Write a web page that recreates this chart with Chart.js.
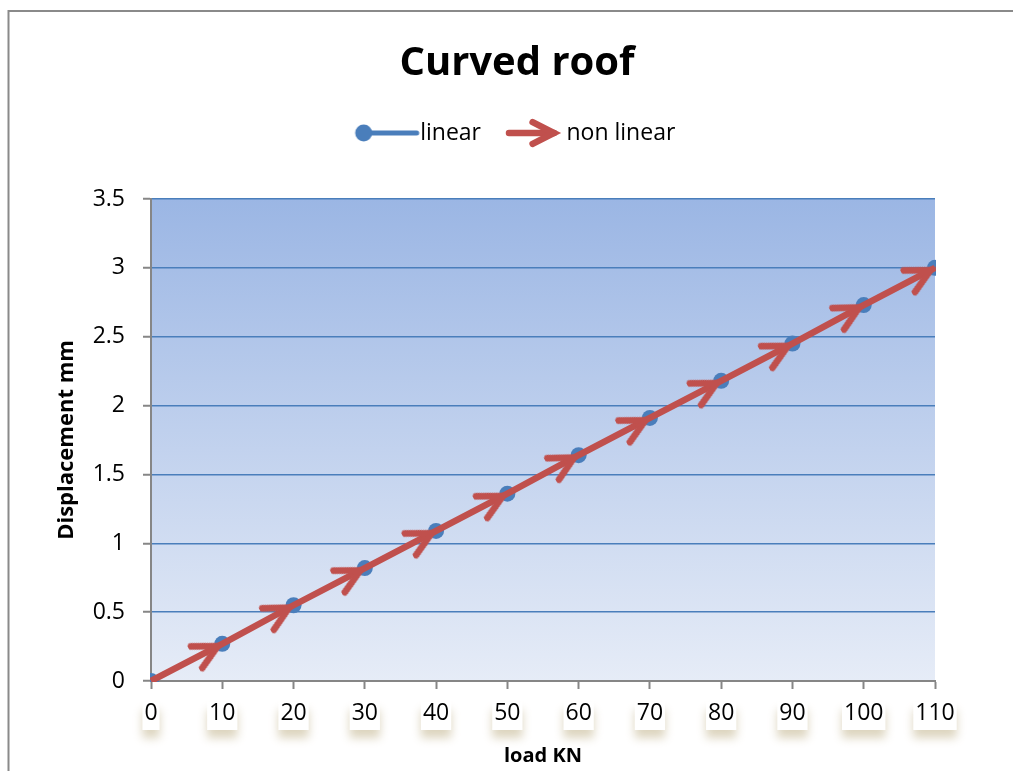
<!DOCTYPE html>
<html><head><meta charset="utf-8">
<script src="https://cdn.jsdelivr.net/npm/chart.js@4.4.1/dist/chart.umd.min.js"></script>
<style>html,body{margin:0;padding:0;background:#fff;overflow:hidden}</style>
</head><body><canvas id="c" width="1013" height="771"></canvas>
<script>
const chartTitle = 'Curved roof';
const seriesNames = ['linear', 'non linear'];
const xTitle = 'load KN';
const yTitle = 'Displacement mm';
const loadKN = [0, 10, 20, 30, 40, 50, 60, 70, 80, 90, 100, 110];
const linearDisp = [0, 0.27, 0.55, 0.82, 1.09, 1.36, 1.64, 1.91, 2.18, 2.45, 2.73, 3.0];
const nonLinearDisp = [0, 0.27, 0.55, 0.82, 1.09, 1.36, 1.64, 1.91, 2.18, 2.45, 2.73, 3.0];
const xTickLabels = ['0', '10', '20', '30', '40', '50', '60', '70', '80', '90', '100', '110'];
const yTickLabels = ['0', '0.5', '1', '1.5', '2', '2.5', '3', '3.5'];

const BLUE = '#4A7EBB';
const RED = '#C0504D';
const AXIS = '#868686';
Chart.defaults.font.family = "'Open Sans', sans-serif";
Chart.defaults.color = '#000';

function drawChevron(g, tipX, tipY, len, ang, w) {
  const dx = len * Math.cos(ang), dy = len * Math.sin(ang);
  g.strokeStyle = RED; g.lineWidth = w; g.lineCap = 'round'; g.lineJoin = 'miter';
  g.beginPath(); g.moveTo(tipX - dx, tipY - dy); g.lineTo(tipX, tipY); g.lineTo(tipX - dx, tipY + dy); g.stroke();
}
function makeChevron() {
  const c = document.createElement('canvas'); c.width = 64; c.height = 64;
  drawChevron(c.getContext('2d'), 27, 32, 27, 27 * Math.PI / 180, 6.5);
  return c;
}
function makeLegendLinear() {
  const c = document.createElement('canvas'); c.width = 80; c.height = 34;
  const g = c.getContext('2d');
  g.strokeStyle = BLUE; g.lineWidth = 5; g.lineCap = 'round';
  g.beginPath(); g.moveTo(20, 17); g.lineTo(73, 17); g.stroke();
  g.fillStyle = BLUE; g.beginPath(); g.arc(20, 17, 8.5, 0, Math.PI * 2); g.fill();
  return c;
}
function makeLegendNonLinear() {
  const c = document.createElement('canvas'); c.width = 80; c.height = 34;
  const g = c.getContext('2d');
  g.strokeStyle = RED; g.lineWidth = 6.5; g.lineCap = 'round';
  g.beginPath(); g.moveTo(19, 17); g.lineTo(64, 17); g.stroke();
  drawChevron(g, 64, 17, 24, 27 * Math.PI / 180, 6.5);
  return c;
}
const chevron = makeChevron();
const legendImgs = [makeLegendLinear(), makeLegendNonLinear()];

function arrowAngle(c) {
  const ch = c.chart, xs = ch.scales.x, ys = ch.scales.y, i = c.dataIndex;
  if (!xs || !ys || i === undefined) return 0;
  const a = i > 0 ? i - 1 : 0, b = i > 0 ? i : 1;
  const dx = xs.getPixelForValue(loadKN[b]) - xs.getPixelForValue(loadKN[a]);
  const dy = ys.getPixelForValue(nonLinearDisp[b]) - ys.getPixelForValue(nonLinearDisp[a]);
  return Math.atan2(dy, dx) * 180 / Math.PI;
}

const bgPlugin = {
  id: 'bg',
  beforeDraw(chart) {
    const { ctx, chartArea: a, scales } = chart;
    ctx.save();
    ctx.strokeStyle = '#8a8a8a'; ctx.lineWidth = 2;
    ctx.strokeRect(8.5, 11, 1200, 1000);
    const g = ctx.createLinearGradient(0, a.top, 0, a.bottom);
    g.addColorStop(0, '#9BB6E4'); g.addColorStop(1, '#E6ECF7');
    ctx.fillStyle = g; ctx.fillRect(a.left, a.top, a.right - a.left, a.bottom - a.top);
    const xs = scales.x;
    ctx.font = "23px 'Open Sans', sans-serif";
    xs.ticks.forEach((t, i) => {
      const px = xs.getPixelForValue(t.value);
      const w = ctx.measureText(xTickLabels[i]).width + 4;
      ctx.shadowColor = 'rgba(185,170,125,0.5)'; ctx.shadowBlur = 10; ctx.shadowOffsetY = 8;
      ctx.fillStyle = '#fff';
      ctx.fillRect(px - w / 2, xs.top + 21, w, 28);
    });
    ctx.restore();
  }
};

new Chart(document.getElementById('c'), {
  type: 'line',
  data: {
    datasets: [
      {
        label: seriesNames[0],
        data: loadKN.map((x, i) => ({ x, y: linearDisp[i] })),
        borderColor: BLUE, borderWidth: 4, pointStyle: 'circle', pointRadius: 8,
        pointBackgroundColor: BLUE, pointBorderWidth: 0, order: 2, clip: 1
      },
      {
        label: seriesNames[1],
        data: loadKN.map((x, i) => ({ x, y: nonLinearDisp[i] })),
        borderColor: RED, borderWidth: 6.5, pointStyle: chevron,
        pointRadius: (c) => c.dataIndex === 0 ? 0 : 6,
        pointRotation: arrowAngle, order: 1, clip: 1
      }
    ]
  },
  options: {
    responsive: false, animation: false, events: [],
    layout: { padding: { left: 21, right: 0, top: 0, bottom: 0 } },
    plugins: {
      title: { display: true, text: chartTitle, font: { size: 40, weight: 'bold' }, color: '#000', padding: { top: 40, bottom: 9.5 } },
      legend: {
        display: true, position: 'top',
        labels: {
          usePointStyle: true, pointStyleWidth: 50, padding: 24, font: { size: 23 }, color: '#000',
          generateLabels: () => seriesNames.map((t, i) => ({
            text: t, pointStyle: legendImgs[i], fillStyle: i ? RED : BLUE, strokeStyle: i ? RED : BLUE,
            lineWidth: 0, hidden: false, datasetIndex: i
          }))
        }
      },
      tooltip: { enabled: false }
    },
    scales: {
      x: {
        type: 'linear', position: 'bottom', min: 0, max: 110,
        ticks: { stepSize: 10, autoSkip: false, maxRotation: 0, callback: (v, i) => xTickLabels[i], font: { size: 23 }, color: '#000', padding: 11 },
        grid: { drawOnChartArea: false, drawTicks: true, tickLength: 8, tickColor: AXIS, tickWidth: 2 },
        border: { color: AXIS, width: 2 },
        title: { display: true, text: xTitle, font: { size: 20, weight: 'bold' }, color: '#000', padding: { top: 0, bottom: 3 } },
        afterFit: (s) => { s.height = 90; }
      },
      y: {
        type: 'linear', position: 'left', min: 0, max: 3.5,
        ticks: { stepSize: 0.5, callback: (v, i) => yTickLabels[i], font: { size: 23 }, color: '#000', padding: 18 },
        grid: { color: BLUE, lineWidth: 1.5, tickLength: 8, tickColor: AXIS, tickWidth: 2 },
        border: { color: AXIS, width: 2 },
        title: { display: true, text: yTitle, font: { size: 22, weight: 'bold' }, color: '#000', padding: { top: 33, bottom: 0 } },
        afterFit: (s) => { s.width = 130; }
      },
      x2: { type: 'linear', position: 'top', display: true, grid: { display: false }, ticks: { display: false }, border: { display: false }, afterFit: (s) => { s.height = 44.5; } },
      y2: { type: 'linear', position: 'right', display: true, grid: { display: false }, ticks: { display: false }, border: { display: false }, afterFit: (s) => { s.width = 78; } }
    }
  },
  plugins: [bgPlugin]
});
</script>
</body></html>
